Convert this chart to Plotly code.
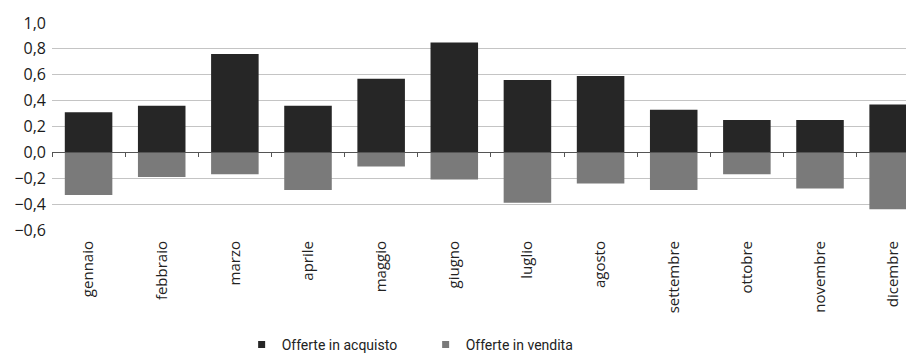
import plotly.graph_objects as go

months = ["gennaio", "febbraio", "marzo", "aprile", "maggio", "giugno",
          "luglio", "agosto", "settembre", "ottobre", "novembre", "dicembre"]
acquisto = [0.31, 0.36, 0.76, 0.36, 0.57, 0.85, 0.56, 0.59, 0.33, 0.25, 0.25, 0.37]
vendita = [-0.33, -0.19, -0.17, -0.29, -0.11, -0.21, -0.39, -0.24, -0.29, -0.17, -0.28, -0.44]
y_ticks = [-0.6, -0.4, -0.2, 0.0, 0.2, 0.4, 0.6, 0.8, 1.0]
series_names = ["Offerte in acquisto", "Offerte in vendita"]
series_colors = ["#262626", "#7a7a7a"]

fig = go.Figure()
for vals, name, col in zip([acquisto, vendita], series_names, series_colors):
    fig.add_trace(go.Bar(x=months, y=vals, name=name, showlegend=False,
                         legendgroup=name, marker=dict(color=col, line=dict(width=0))))
# small square legend markers (legend-only entries linked to the bars)
for name, col in zip(series_names, series_colors):
    fig.add_trace(go.Scatter(x=[None], y=[None], mode="markers", name=name,
                             legendgroup=name,
                             marker=dict(symbol="square", size=7, color=col)))
# helper trace so the zero-line axis with category ticks is drawn
fig.add_trace(go.Scatter(x=months, y=[0] * len(months), xaxis="x2", mode="lines",
                         line=dict(width=0), showlegend=False, hoverinfo="skip"))

tick_font = dict(family="Open Sans", size=16, color="#1a1a1a")
fig.update_layout(
    width=906, height=346,
    margin=dict(l=44, r=0, t=15, b=124, autoexpand=False),
    paper_bgcolor="white", plot_bgcolor="white",
    barmode="relative", bargap=0.35,
    separators=",.",
    font=dict(family="Open Sans", color="#222222"),
    xaxis=dict(type="category", categoryorder="array", categoryarray=months,
               range=[-0.5, 11.285], tickangle=-90, ticks="",
               tickfont=dict(family="Open Sans", size=15, color="#222222"),
               ticklabelstandoff=7, showgrid=False, showline=False, zeroline=False,
               automargin=False),
    xaxis2=dict(type="category", categoryorder="array", categoryarray=months,
                overlaying="x", matches="x", anchor="free", position=0.375,
                showticklabels=False, ticks="outside", ticklen=4, tickwidth=1,
                tickcolor="#555555", tickson="boundaries", showline=True,
                linecolor="#555555", linewidth=1, showgrid=False, zeroline=False),
    yaxis=dict(range=[-0.6, 1.0], tickvals=y_ticks, tickformat=".1f",
               tickfont=tick_font, ticks="", ticklabelstandoff=5,
               showgrid=True, gridcolor="#c4c4c4", gridwidth=1,
               zeroline=False, showline=False, automargin=False),
    legend=dict(orientation="h", x=0.22, xanchor="left", y=-0.555, yanchor="middle",
                font=dict(family="Roboto", size=14, color="#222222"),
                entrywidth=139, itemwidth=30, itemsizing="trace",
                traceorder="normal"),
)

fig.write_html("out.html")
